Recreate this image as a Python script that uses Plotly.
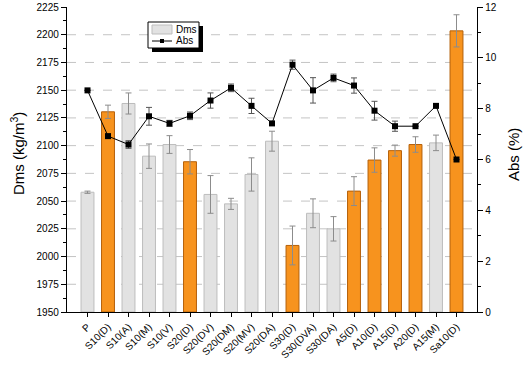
import plotly.graph_objects as go

categories = ["P", "S10(D)", "S10(A)", "S10(M)", "S10(V)", "S20(D)", "S20(DV)", "S20(DM)",
              "S20(MV)", "S20(DA)", "S30(D)", "S30(DVA)", "S30(DA)", "A5(D)", "A10(D)",
              "A15(D)", "A20(D)", "A15(M)", "Sa10(D)"]
dms = [2058, 2130.5, 2138, 2090.5, 2101, 2085.5, 2056, 2047.5, 2074, 2104, 2010, 2039, 2025,
       2059, 2087, 2095.5, 2101, 2102.5, 2203.5]
dms_err = [1, 6, 9.5, 11, 8, 11, 17, 5, 15, 9, 17.5, 13, 11, 13, 11, 5, 7, 7, 14.5]
abs_vals = [8.72, 6.92, 6.59, 7.70, 7.42, 7.72, 8.32, 8.82, 8.11, 7.42, 9.73, 8.72, 9.21, 8.91,
            7.92, 7.31, 7.31, 8.11, 6.0]
abs_err = [0, 0, 0.15, 0.35, 0.12, 0.15, 0.3, 0.15, 0.3, 0, 0.18, 0.5, 0.15, 0.3, 0.37, 0.2,
           0, 0.05, 0]
highlight = [False, True, False, False, False, True, False, False, False, False, True, False,
             False, True, True, True, True, False, True]
grid_levels = [1975, 2000, 2025, 2050, 2075, 2100, 2125, 2150, 2175, 2200]

ORANGE = "#F7931E"
ORANGE_EDGE = "#B5600A"
GRAY = "#E2E2E2"
GRAY_EDGE = "#BDBDBD"
FONT = "Liberation Sans, Arial, sans-serif"

x = list(range(len(categories)))

fig = go.Figure()
fig.add_trace(go.Bar(
    x=x, y=[v - 1950 for v in dms], base=1950, width=0.63,
    marker=dict(color=[ORANGE if h else GRAY for h in highlight],
                line=dict(color=[ORANGE_EDGE if h else GRAY_EDGE for h in highlight], width=1)),
    error_y=dict(type="data", array=dms_err, color="#8C8C8C", thickness=1, width=3),
    name="Dms", showlegend=False, hoverinfo="skip",
))
fig.add_trace(go.Scatter(
    x=x, y=abs_vals, yaxis="y2", mode="lines+markers",
    line=dict(color="black", width=1),
    marker=dict(symbol="square", size=6, color="black"),
    error_y=dict(type="data", array=abs_err, color="#555555", thickness=1, width=3),
    name="Abs", showlegend=False, hoverinfo="skip",
))

W, H = 525, 370
ml, mr, mt, mb = 67, 48, 7, 58
pw, ph = W - ml - mr, H - mt - mb


def px(xp):
    return (xp - ml) / pw


def py(yp):
    return 1 - (yp - mt) / ph


shapes = [
    dict(type="line", xref="paper", yref="y", x0=0, x1=1, y0=g, y1=g,
         line=dict(color="#C4C4C4", width=1, dash="dash"), layer="below")
    for g in grid_levels
]
# manual legend (paper coordinates)
L, R, T, B = 148, 199, 22, 48
shapes += [
    dict(type="rect", xref="paper", yref="paper", x0=px(L + 4), x1=px(R + 4), y0=py(B + 4), y1=py(T + 4),
         fillcolor="black", line=dict(width=0), layer="above"),
    dict(type="rect", xref="paper", yref="paper", x0=px(L), x1=px(R), y0=py(B), y1=py(T),
         fillcolor="white", line=dict(color="black", width=1), layer="above"),
    dict(type="rect", xref="paper", yref="paper", x0=px(152), x1=px(172), y0=py(34), y1=py(25),
         fillcolor=GRAY, line=dict(color=GRAY_EDGE, width=1), layer="above"),
    dict(type="line", xref="paper", yref="paper", x0=px(152), x1=px(172), y0=py(41), y1=py(41),
         line=dict(color="black", width=1), layer="above"),
    dict(type="rect", xref="paper", yref="paper", x0=px(160), x1=px(164), y0=py(43), y1=py(39),
         fillcolor="black", line=dict(width=0), layer="above"),
]
annotations = [
    dict(xref="paper", yref="paper", x=px(174), y=py(29.5), text="Dms", showarrow=False,
         xanchor="left", yanchor="middle", font=dict(family=FONT, size=10, color="black")),
    dict(xref="paper", yref="paper", x=px(174), y=py(41), text="Abs", showarrow=False,
         xanchor="left", yanchor="middle", font=dict(family=FONT, size=10, color="black")),
    dict(xref="paper", yref="paper", x=px(17), y=py(154), text="Dms (kg/m<sup>3</sup>)",
         showarrow=False, textangle=-90, xanchor="center", yanchor="middle",
         font=dict(family=FONT, size=15, color="black")),
    dict(xref="paper", yref="paper", x=px(513), y=py(155), text="Abs (%)",
         showarrow=False, textangle=-90, xanchor="center", yanchor="middle",
         font=dict(family=FONT, size=15, color="black")),
]

fig.update_layout(
    width=W, height=H,
    margin=dict(l=ml, r=mr, t=mt, b=mb, autoexpand=False),
    plot_bgcolor="white", paper_bgcolor="white",
    font=dict(family=FONT, size=10, color="black"),
    shapes=shapes, annotations=annotations, hovermode=False,
    xaxis=dict(
        range=[-1, 19], tickmode="array", tickvals=x, ticktext=categories, tickangle=-45,
        showline=True, linecolor="black", linewidth=1.2, ticks="outside", ticklen=4,
        tickcolor="black", showgrid=False, zeroline=False, tickfont=dict(size=10),
        automargin=False,
    ),
    yaxis=dict(
        range=[1950, 2225], dtick=25, showline=True, linecolor="black", linewidth=1.2,
        ticks="outside", ticklen=5, tickcolor="black", tickfont=dict(size=10),
        showgrid=False, zeroline=False, automargin=False,
        minor=dict(dtick=12.5, ticks="outside", ticklen=3, tickcolor="black", showgrid=False),
    ),
    yaxis2=dict(
        range=[0, 12], dtick=2, overlaying="y", side="right", showline=True, linecolor="black",
        linewidth=1.2, ticks="outside", ticklen=5, tickcolor="black", tickfont=dict(size=10),
        showgrid=False, zeroline=False, automargin=False,
        minor=dict(dtick=1, ticks="outside", ticklen=3, tickcolor="black", showgrid=False),
    ),
)

fig.write_html(
    "out.html",
    config={"displayModeBar": False, "staticPlot": True},
    post_script="document.body.style.margin='0';document.body.style.padding='0';"
                "document.documentElement.style.overflow='hidden';",
)
